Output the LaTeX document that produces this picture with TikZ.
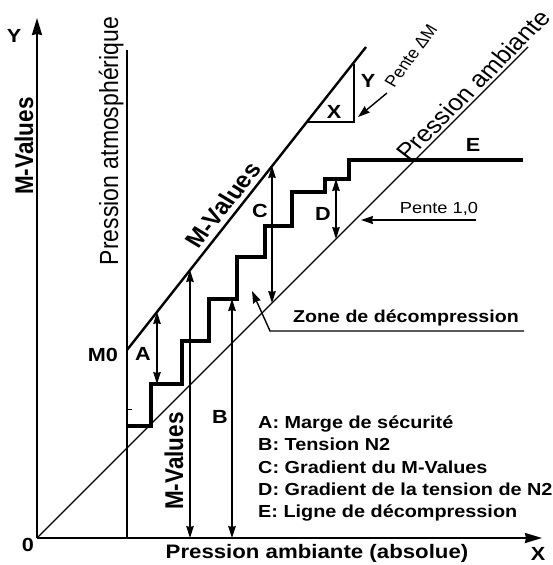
\documentclass[tikz,border=0pt]{standalone}
\usepackage{fontspec}
\setmainfont{Liberation Sans}
\usetikzlibrary{arrows.meta}
\begin{document}
\begin{tikzpicture}[x=1pt,y=-1pt,
  thinl/.style={line width=1.4pt},
  dbl/.style={line width=1.4pt,{Stealth[length=12pt,width=7.5pt,inset=1pt]}-{Stealth[length=12pt,width=7.5pt,inset=1pt]}},
  lead/.style={line width=1.4pt,-{Stealth[length=12pt,width=8pt,inset=1pt]}},
  axisl/.style={line width=2pt,-{Stealth[length=17pt,width=10pt,inset=1pt]}},
  mline/.style={line width=2.4pt},
  stair/.style={line width=3.4pt},
  st/.style={inner sep=0pt,xscale=1.14},
  bigb/.style={st,font=\fontsize{22.5}{24}\selectfont\bfseries},
  bigr/.style={st,font=\fontsize{23}{26}\selectfont},
  midb/.style={st,font=\fontsize{17.4}{20}\selectfont\bfseries},
  zoneb/.style={st,font=\fontsize{17.2}{20}\selectfont\bfseries},
  smallr/.style={st,font=\fontsize{16}{18}\selectfont},
  letb/.style={st,font=\fontsize{19}{22}\selectfont\bfseries},
]
\fill[white] (0,0) rectangle (552,565);
\useasboundingbox (0,0) rectangle (552,565);

% axes
\coordinate (O) at (37,538);
\coordinate (Ytip) at (37,18);
\coordinate (Xtip) at (542,538);
\draw[axisl] (O) -- (Ytip);
\draw[axisl] (O) -- (Xtip);

% atmospheric pressure line
\coordinate (atmT) at (127,50);
\coordinate (atmB) at (127,538);
\draw[thinl] (atmT) -- (atmB);

% ambient pressure line (slope 1)
\coordinate (ambE) at (528,47);
\draw[thinl] (O) -- (ambE);

% M-values line
\coordinate (M0) at (127,350);
\coordinate (Mend) at (366,47);
\draw[mline] (M0) -- (Mend);

% slope triangle
\coordinate (T1) at (308,122);
\coordinate (T2) at (354,122);
\coordinate (T3) at (354,64);
\draw[thinl] (T1) -- (T2) -- (T3);

% decompression staircase
\draw[stair] (127,426) -- (151,426) -- (151,384) -- (182,384) -- (182,341)
  -- (209,341) -- (209,299) -- (237,299) -- (237,257) -- (265,257) -- (265,226)
  -- (292,226) -- (292,192) -- (325,192) -- (325,179) -- (349,179) -- (349,160)
  -- (523,160);
\draw[line width=1pt] (127,409) -- (132,409);

% double arrows
\coordinate (Aa) at (157,312);  \coordinate (Ab) at (157,384);
\coordinate (Ma) at (190,270);  \coordinate (Mb) at (190,538);
\coordinate (Ba) at (232,299);  \coordinate (Bb) at (232,538);
\coordinate (Ca) at (272,166);  \coordinate (Cb) at (272,303);
\coordinate (Da) at (336,179);  \coordinate (Db) at (336,239);
\draw[dbl] (Aa) -- (Ab);
\draw[dbl] (Ma) -- (Mb);
\draw[dbl] (Ba) -- (Bb);
\draw[dbl] (Ca) -- (Cb);
\draw[dbl] (Da) -- (Db);

% leaders
\coordinate (Zs) at (524,331);
\coordinate (Zk) at (270,331);
\coordinate (Zt) at (252,291);
\draw[lead] (Zs) -- (Zk) -- (Zt);
\coordinate (Ps) at (476,220);
\coordinate (Pt) at (361,220);
\draw[lead] (Ps) -- (Pt);
\coordinate (Qs) at (387,93);
\coordinate (Qt) at (358,117);
\draw[lead] (Qs) -- (Qt);

% labels
\node[letb] (lY) at (14,36) {Y};
\node[letb] (l0) at (28,545) {0};
\node[letb] (lX) at (538,554) {X};
\node[bigb, anchor=base, rotate=90] (lMV) at (33,146) {M-Values};
\node[bigr, anchor=base, rotate=90] (lPA) at (118,141) {Pression atmosphérique};
\node[bigb, anchor=base, rotate=90] (lMV2) at (183,461) {M-Values};
\node[bigb, rotate=55.3] (lMV3) at (223,205) {M-Values};
\node[bigr, rotate=48.7] (lPamb) at (473,85) {Pression ambiante};
\node[smallr, rotate=56.5] (lPDM) at (411,56) {Pente ΔM};
\node[letb] (lTX) at (334,112) {X};
\node[letb] (lTY) at (368,81) {Y};
\node[letb] (lM0) at (103,355) {M0};
\node[letb] (lA) at (143,354) {A};
\node[letb] (lB) at (220,417) {B};
\node[letb] (lC) at (260,211) {C};
\node[letb] (lD) at (323,214) {D};
\node[letb] (lE) at (473,145) {E};
\node[smallr, anchor=base] (lP10) at (439,213) {Pente 1,0};
\node[zoneb, anchor=base] (lZone) at (406,322) {Zone de décompression};
\node[bigb, anchor=base, font=\fontsize{19.5}{22}\selectfont\bfseries] (lXax) at (317,558) {Pression ambiante (absolue)};

\node[midb, anchor=base west] (g1) at (258,428) {A: Marge de sécurité};
\node[midb, anchor=base west] (g2) at (258,450) {B: Tension N2};
\node[midb, anchor=base west] (g3) at (258,473) {C: Gradient du M-Values};
\node[midb, anchor=base west] (g4) at (258,495) {D: Gradient de la tension de N2};
\node[midb, anchor=base west] (g5) at (258,517) {E: Ligne de décompression};
\end{tikzpicture}
\end{document}
